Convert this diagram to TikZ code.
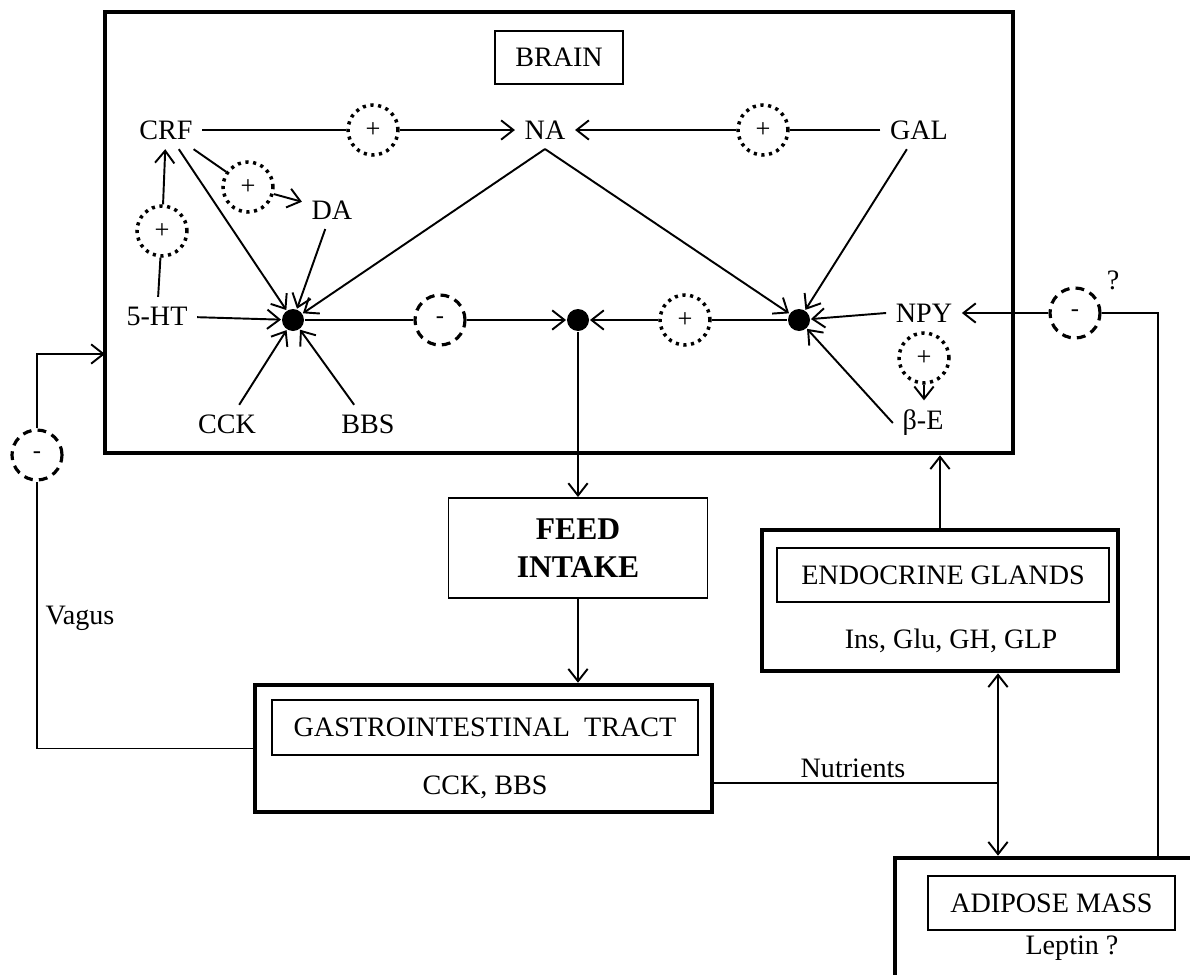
\documentclass[tikz,border=0pt]{standalone}
\usepackage{fontspec}
\setmainfont{Liberation Serif}
\usetikzlibrary{arrows.meta, positioning}

\begin{document}
\begin{tikzpicture}[x=0.02cm, y=-0.02cm, line width=1.1pt,
    >={Straight Barb[length=7pt,width=11pt]},
    every node/.style={font=\fontsize{16}{19}\selectfont},
    lbl/.style={inner sep=5pt},
    jn/.style={circle, fill, inner sep=0pt, minimum size=0.44cm},
    stim/.style={circle, draw, line width=2pt, dash pattern=on 1.8pt off 2.6pt,
                 minimum size=1cm, inner sep=0pt, font=\fontsize{15}{15}\selectfont},
    inhib/.style={circle, draw, line width=1.8pt, dash pattern=on 5pt off 3.5pt,
                  minimum size=1cm, inner sep=0pt, font=\fontsize{14}{14}\selectfont},
    outerbox/.style={draw, line width=2.6pt, inner sep=0pt},
    innerbox/.style={draw, line width=1.1pt, inner sep=0pt}]
  \useasboundingbox (0,0) rectangle (1190,974);

  \node[outerbox, minimum width=18.16cm, minimum height=8.82cm] (brain) at (559,232.5) {};
  \node[innerbox, minimum width=2.56cm, minimum height=1.06cm] (brainlbl) at (559,57.5) {BRAIN};

  \node[lbl] (crf) at (166,130) {CRF};
  \node[lbl] (na) at (545,130) {NA};
  \node[lbl] (gal) at (919,130) {GAL};
  \node[lbl] (da) at (332,210) {DA};
  \node[lbl] (ht) at (157,316) {5-HT};
  \node[lbl] (npy) at (924,313) {NPY};
  \node[lbl] (be) at (923,423) {β-E};
  \node[lbl] (cck) at (227,424) {CCK};
  \node[lbl] (bbs) at (368,424) {BBS};

  \node[stim] (s1) at (373,130) {+};
  \node[stim] (s2) at (763,130) {+};
  \node[stim] (s3) at (248,187) {+};
  \node[stim] (s4) at (162,231) {+};
  \node[stim] (s5) at (685,320) {+};
  \node[stim] (s6) at (924,358) {+};
  \node[inhib] (i1) at (440,320) {-};
  \node[inhib] (i2) at (37,455) {-};
  \node[inhib] (i3) at (1075,313) {-};

  \node[jn] (j1) at (293,320) {};
  \node[jn] (j2) at (578,320) {};
  \node[jn] (j3) at (799,320) {};

  \draw (crf) -- (s1); \draw[->] (s1) -- (na);
  \draw (gal) -- (s2); \draw[->] (s2) -- (na);
  \draw (crf) -- (s3); \draw[->] (s3) -- (da);
  \draw (ht) -- (s4); \draw[->] (s4) -- (crf);
  \foreach \n in {crf, da, ht, cck, bbs}
    \draw[->] (\n) -- (j1);
  \draw[->] (na.south) -- (j1);
  \draw[->] (na.south) -- (j3);
  \draw[->] (gal) -- (j3);
  \draw[->] (npy.west) -- (j3);
  \draw[->] (be.west) -- (j3);
  \draw[->] (s6) -- (s6 |- be.north);

  \draw (j1) -- (i1); \draw[->] (i1) -- (j2);
  \draw (j3) -- (s5); \draw[->] (s5) -- (j2);

  \node[draw, minimum width=5.18cm, minimum height=2cm, align=center,
        font=\fontsize{18}{22}\selectfont\bfseries] (feed) at (578,548) {FEED\\INTAKE};
  \draw[->] (j2) -- (feed);

  \node[outerbox, minimum width=9.14cm, minimum height=2.54cm] (gi) at (483.5,748.5) {};
  \node[innerbox, minimum width=8.52cm, minimum height=1.1cm] (gilbl) at (485,727.5) {GASTROINTESTINAL~ TRACT};
  \node (gihorm) at (485,787) {CCK, BBS};
  \draw[->] (feed) -- (feed |- gi.north);

  \node[outerbox, minimum width=7.12cm, minimum height=2.82cm] (endo) at (940,600.5) {};
  \node[innerbox, minimum width=6.64cm, minimum height=1.08cm] (endolbl) at (943,575) {ENDOCRINE GLANDS};
  \node (endohorm) at (951,641) {Ins, Glu, GH, GLP};
  \draw[->] (endo) -- (endo |- brain.south);

  \node[outerbox, minimum width=6.3cm, minimum height=2.64cm] (adip) at (1052.5,924) {};
  \node[innerbox, minimum width=4.94cm, minimum height=1.08cm] (adiplbl) at (1051.5,903) {ADIPOSE MASS};
  \node (lep) at (1072,948) {Leptin ?};

  \coordinate (nut) at (998,783);
  \draw (gi.east |- nut) -- (nut);
  \node (nutlbl) at (853,768) {Nutrients};
  \draw[<->] (endo.south -| nut) -- (adip.north -| nut);

  \coordinate (vagin) at (105,354);
  \draw (gi.west) -| (i2);
  \draw[->] (i2) |- (vagin);
  \node (vag) at (80,618) {Vagus};

  \coordinate (lepup) at (1158,313);
  \draw (adip.north -| lepup) -- (lepup) -- (i3);
  \draw[->] (i3) -- (npy);
  \node (q) at (1113,280) {?};
\end{tikzpicture}
\end{document}
